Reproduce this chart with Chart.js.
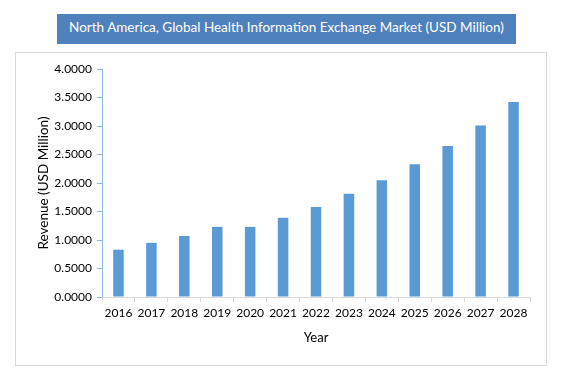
<!DOCTYPE html>
<html>
<head>
<meta charset="utf-8">
<script src="https://cdn.jsdelivr.net/npm/chart.js@4"></script>
<style>
  html, body { margin: 0; padding: 0; background: #fff; }
  #wrap { position: relative; width: 567px; height: 368px; }
  #frame { position: absolute; left: 15px; top: 52px; width: 530px; height: 312px; border: 1px solid #d9d9d9; }
  #title { position: absolute; left: 57px; top: 14px; width: 459px; height: 30px; background: #4f81bd;
           color: #fff; font: 13.5px Lato, sans-serif; text-align: center; line-height: 27px; }
  canvas { position: absolute; left: 0; top: 0; }
</style>
</head>
<body>
<div id="wrap">
  <div id="frame"></div>
  <div id="title">North America, Global Health Information Exchange Market (USD Million)</div>
  <canvas id="marketChart" width="567" height="368"></canvas>
</div>
<script>
const years = ['2016', '2017', '2018', '2019', '2020', '2021', '2022', '2023', '2024', '2025', '2026', '2027', '2028'];
const revenue = [0.83, 0.95, 1.07, 1.23, 1.23, 1.39, 1.58, 1.81, 2.05, 2.33, 2.65, 3.01, 3.42];
const yMax = 4;
const yStep = 0.5;

const ctx = document.getElementById('marketChart');
new Chart(ctx, {
    type: 'bar',
    data: {
        labels: years,
        datasets: [{
            label: 'Revenue',
            data: revenue,
            backgroundColor: '#5b9bd5',
            borderWidth: 0,
            barPercentage: 0.32,
            categoryPercentage: 1
        }]
    },
    options: {
        responsive: false,
        animation: false,
        layout: {
            padding: { left: 35, right: 37, top: 69, bottom: 20 }
        },
        plugins: {
            legend: { display: false },
            tooltip: { enabled: false }
        },
        scales: {
            y: {
                min: 0,
                max: yMax,
                afterFit: (scale) => { scale.width = 67; },
                ticks: {
                    stepSize: yStep,
                    color: '#000',
                    font: { family: 'Lato', size: 12 },
                    padding: 5,
                    callback: (v) => Number(v).toFixed(4)
                },
                grid: {
                    display: true,
                    drawOnChartArea: false,
                    drawTicks: true,
                    tickLength: 5,
                    color: '#8eb4e3'
                },
                border: { color: '#8eb4e3' },
                title: {
                    display: true,
                    text: 'Revenue (USD Million)',
                    color: '#000',
                    font: { family: 'Lato', size: 13.5 },
                    padding: 1
                }
            },
            x: {
                afterFit: (scale) => { scale.height = 51; },
                ticks: {
                    color: '#000',
                    font: { family: 'Lato', size: 12 },
                    padding: 4,
                    maxRotation: 0,
                    minRotation: 0,
                    autoSkip: false
                },
                grid: {
                    display: true,
                    drawOnChartArea: false,
                    drawTicks: true,
                    tickLength: 5,
                    color: '#d9d9d9'
                },
                border: { color: '#d9d9d9' },
                title: {
                    display: true,
                    text: 'Year',
                    color: '#000',
                    font: { family: 'Lato', size: 13 },
                    padding: 2
                }
            }
        }
    }
});
</script>
</body>
</html>
